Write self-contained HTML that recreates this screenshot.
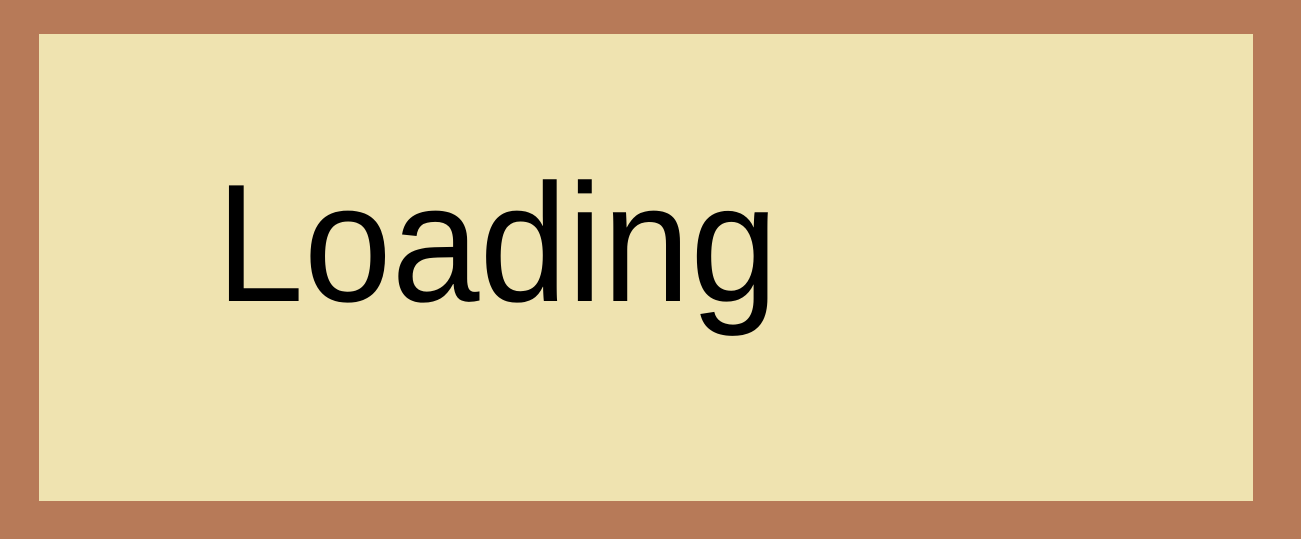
<!DOCTYPE html>
<html><head><meta charset="utf-8"><style>
html,body{margin:0;padding:0;}
body{width:1301px;height:539px;background:#b77a58;position:relative;overflow:hidden;}
.inner{position:absolute;left:39px;top:34px;width:1214px;height:467px;background:#efe3b0;}
.t{position:absolute;left:216px;top:243px;font-family:"Liberation Sans",sans-serif;font-size:168px;line-height:0;color:#000;transform-origin:0 0;transform:scaleX(0.94);white-space:nowrap;}
.t span{display:inline-block;vertical-align:baseline;}
</style></head><body>
<div class="inner"></div>
<div class="t"><span>Loading</span></div>
</body></html>
